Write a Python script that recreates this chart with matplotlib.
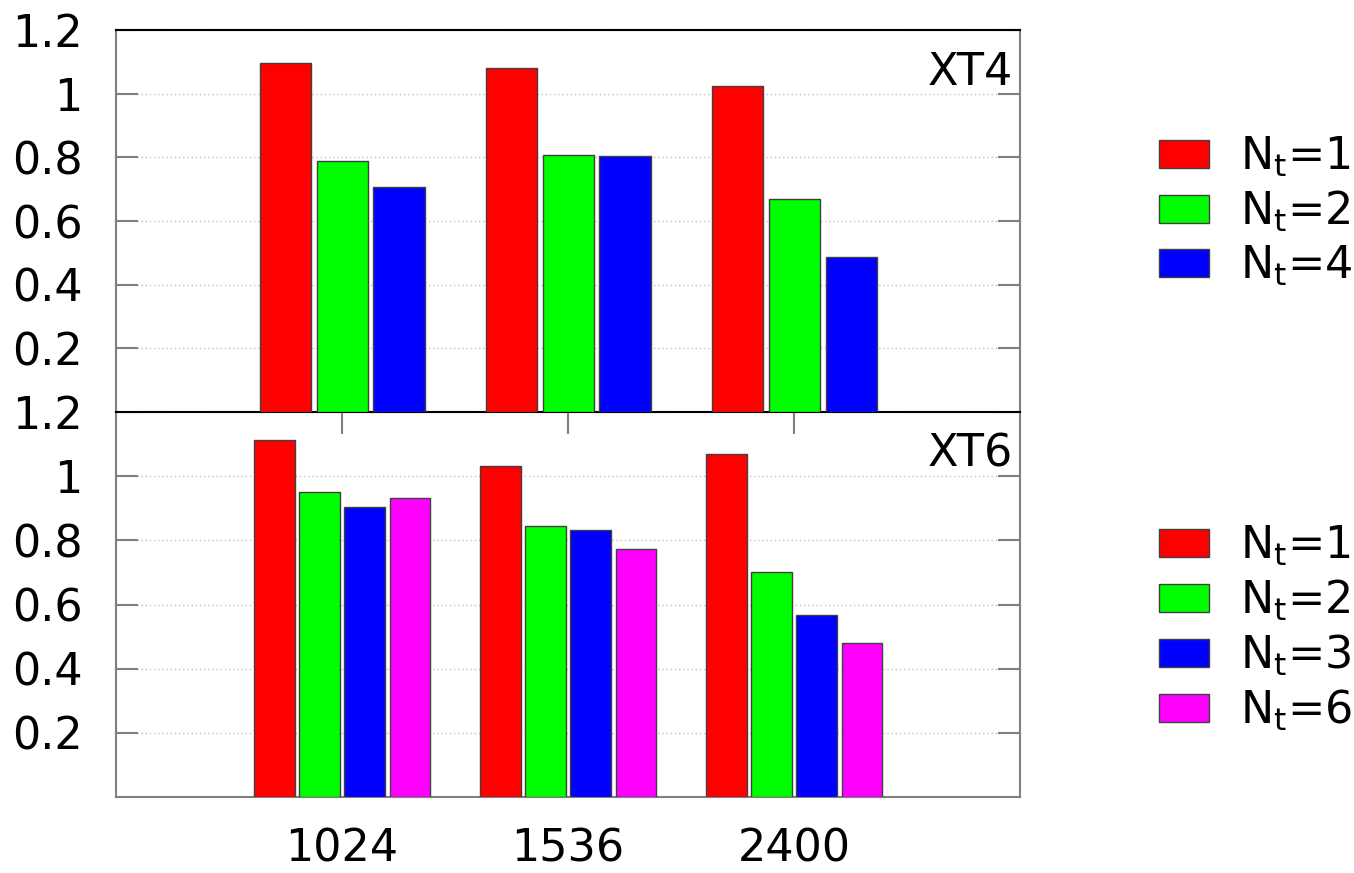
import matplotlib
matplotlib.use("Agg")
import matplotlib.pyplot as plt
import numpy as np

plt.rcParams["font.family"] = "DejaVu Sans"
plt.rcParams["mathtext.default"] = "regular"

# --- data ---
sizes = ["1024", "1536", "2400"]

xt4_labels = ["$N_t$=1", "$N_t$=2", "$N_t$=4"]
xt4_n1 = [1.096, 1.081, 1.024]
xt4_n2 = [0.789, 0.807, 0.669]
xt4_n4 = [0.707, 0.804, 0.487]

xt6_labels = ["$N_t$=1", "$N_t$=2", "$N_t$=3", "$N_t$=6"]
xt6_n1 = [1.113, 1.032, 1.069]
xt6_n2 = [0.951, 0.845, 0.701]
xt6_n3 = [0.904, 0.832, 0.567]
xt6_n6 = [0.932, 0.773, 0.480]

colors = ["#ff0000", "#00ff00", "#0000ff", "#ff00ff"]
FS = 32
GRAY = "#808080"


def panel(ax, series, labels, step, width, name, legend_y):
    x = np.arange(1, len(sizes) + 1)
    n = len(series)
    for i, (vals, lab) in enumerate(zip(series, labels)):
        off = (i - (n - 1) / 2) * step
        ax.bar(x + off, vals, width, color=colors[i], edgecolor="#404040",
               linewidth=1, label=lab, zorder=3)
    ax.set_xlim(0, 4)
    ax.set_ylim(0, 1.2)
    ax.set_yticks([0.2, 0.4, 0.6, 0.8, 1.0, 1.2])
    ax.set_yticklabels(["0.2", "0.4", "0.6", "0.8", "1", "1.2"])
    ax.yaxis.grid(True, linestyle=(0, (1, 2)), color="#c0c0c0", linewidth=1, zorder=0)
    ax.tick_params(axis="y", direction="in", length=16, width=1.5, color=GRAY,
                   left=True, right=True, labelsize=FS, pad=24)
    for s in ("left", "right", "bottom", "top"):
        ax.spines[s].set_color(GRAY)
        ax.spines[s].set_linewidth(1.5)
    ax.text(0.992, 0.89, name, transform=ax.transAxes, ha="right", va="center",
            fontsize=FS)
    ax.legend(loc="center left", bbox_to_anchor=(1.154, legend_y), frameon=False,
              fontsize=FS, borderaxespad=0, borderpad=0, handlelength=1.12,
              handleheight=0.6, handletextpad=0.7, labelspacing=0.22)


fig = plt.figure(figsize=(13.54, 8.73), dpi=100)
ax1 = fig.add_axes([0.0857, 0.528, 0.6677, 0.4374])
ax2 = fig.add_axes([0.0857, 0.0870, 0.6677, 0.441])

panel(ax1, [xt4_n1, xt4_n2, xt4_n4], xt4_labels, 0.252, 0.226, "XT4", 0.526)
panel(ax2, [xt6_n1, xt6_n2, xt6_n3, xt6_n6], xt6_labels, 0.2, 0.18, "XT6", 0.438)

# upper panel on top so its black bottom edge stays unbroken
ax1.set_zorder(2)
ax1.set_xticks([])
ax1.spines["top"].set_color("black")
ax1.spines["bottom"].set_color("black")

ax2.spines["top"].set_visible(False)
ax2.set_xticks(np.arange(1, len(sizes) + 1))
ax2.set_xticklabels(sizes)
ax2.tick_params(axis="x", direction="in", bottom=False, top=True, length=16,
                width=1.5, color=GRAY, labelsize=FS, pad=22)

fig.savefig("out.png", dpi=100)
